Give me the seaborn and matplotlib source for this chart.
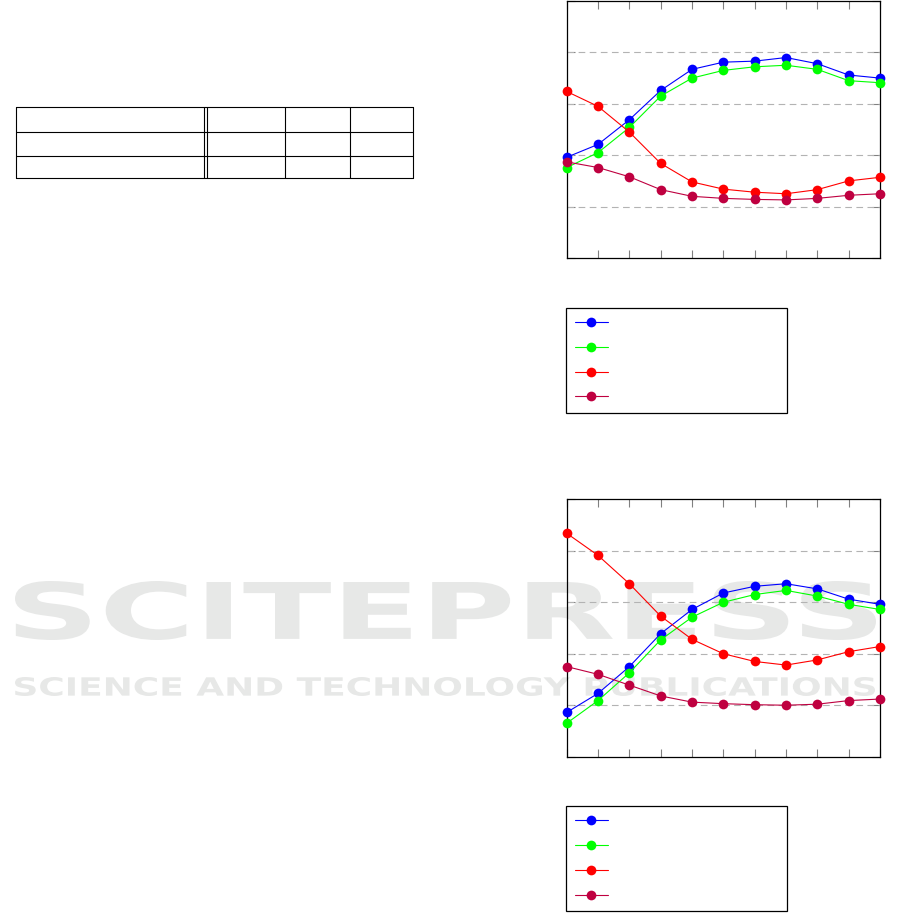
import numpy as np
import pandas as pd
import matplotlib
matplotlib.use("Agg")
import matplotlib.pyplot as plt
import seaborn as sns
from matplotlib.textpath import TextPath
from matplotlib.font_manager import FontProperties
from matplotlib.patches import PathPatch
from matplotlib.transforms import Affine2D
from matplotlib.lines import Line2D

# dados
x_pontos = list(range(11))
series = ["s1", "s2", "s3", "s4"]
cores = ["#0000ff", "#00ff00", "#ff0000", "#bf0040"]

sup_azul = [1.96, 2.21, 2.69, 3.26, 3.67, 3.81, 3.83, 3.90, 3.78, 3.56, 3.50]
sup_verde = [1.76, 2.05, 2.54, 3.15, 3.50, 3.65, 3.72, 3.75, 3.67, 3.45, 3.41]
sup_vermelho = [3.24, 2.95, 2.45, 1.84, 1.48, 1.34, 1.28, 1.25, 1.33, 1.50, 1.57]
sup_roxo = [1.87, 1.76, 1.58, 1.33, 1.20, 1.16, 1.14, 1.13, 1.16, 1.22, 1.25]

inf_azul = [0.86, 1.23, 1.75, 2.39, 2.86, 3.18, 3.31, 3.36, 3.26, 3.06, 2.96]
inf_verde = [0.65, 1.09, 1.63, 2.27, 2.71, 3.00, 3.15, 3.23, 3.12, 2.96, 2.86]
inf_vermelho = [4.34, 3.91, 3.36, 2.73, 2.28, 2.00, 1.85, 1.78, 1.88, 2.04, 2.14]
inf_roxo = [1.75, 1.60, 1.39, 1.18, 1.06, 1.03, 1.01, 1.00, 1.02, 1.09, 1.12]

W, H = 901, 913
fig = plt.figure(figsize=(W / 100, H / 100), dpi=100)
sns.set_style("white")

# marca d'agua
cinza = "#e7e8e7"
def marca(texto, x0, y0, x1, y1):
    tp = TextPath((0, 0), texto, size=100, prop=FontProperties(family="DejaVu Sans", weight="bold"))
    bb = tp.get_extents()
    t = Affine2D().translate(-bb.x0, -bb.y0).scale((x1 - x0) / bb.width, (y1 - y0) / bb.height)
    t = t.translate(x0, H - y1).scale(1 / W, 1 / H)
    p = PathPatch(t.transform_path(tp), facecolor=cinza, edgecolor="none",
                  transform=fig.transFigure, zorder=0)
    fig.add_artist(p)

marca("SCITEPRESS", 15, 581, 876, 640)
marca("SCIENCE AND TECHNOLOGY PUBLICATIONS", 15, 677, 875, 696)

# tabela vazia
lin_y = [107.3, 131.7, 155.7, 178.3]
col_x = [16.3, 203.7, 207.3, 285.3, 349.7, 413.3]
for y in lin_y:
    fig.add_artist(Line2D([col_x[0] / W, col_x[-1] / W], [1 - y / H, 1 - y / H],
                          color="black", lw=0.8, transform=fig.transFigure))
for x in col_x:
    fig.add_artist(Line2D([x / W, x / W], [1 - lin_y[0] / H, 1 - lin_y[-1] / H],
                          color="black", lw=0.8, transform=fig.transFigure))

def painel(rect, valores, leg_rect):
    ax = fig.add_axes(rect)
    ax.set_facecolor("none")
    for nome, vals, cor in zip(series, valores, cores):
        sns.lineplot(x=x_pontos, y=vals, ax=ax, color=cor, marker="o", markersize=7,
                     markeredgewidth=0, linewidth=0.8, label=" ", clip_on=False, zorder=3)
    ax.set_xlim(0, 10)
    ax.set_ylim(0, 5)
    ax.set_xticks(x_pontos)
    ax.set_yticks([0, 1, 2, 3, 4, 5])
    ax.set_xticklabels([])
    ax.set_yticklabels([])
    ax.set_xlabel("")
    ax.set_ylabel("")
    for y in [1, 2, 3, 4]:
        ax.axhline(y, color="#b3b3b3", lw=0.8, ls=(0, (6, 4)), zorder=1)
    ax.tick_params(direction="in", length=6, width=0.8, color="#808080",
                   top=True, right=True, bottom=True, left=True)
    for s in ax.spines.values():
        s.set_color("black")
        s.set_linewidth(0.9)
    handles, labels = ax.get_legend_handles_labels()
    ax.get_legend().remove()
    leg = fig.legend(handles, labels, loc="upper left", bbox_to_anchor=leg_rect, mode="expand",
                     fontsize=10, handlelength=2.4, handleheight=1.0, labelspacing=0.78,
                     borderpad=0.6, borderaxespad=0, fancybox=False, framealpha=1,
                     edgecolor="black", handletextpad=0.5)
    leg.get_frame().set_linewidth(0.9)
    return ax

painel([566.7 / W, 1 - 258 / H, 313.3 / W, 257 / H],
       [sup_azul, sup_verde, sup_vermelho, sup_roxo],
       (566.3 / W, 1 - 308 / H, 221 / W, 0))
painel([566.7 / W, 1 - 756.7 / H, 313.3 / W, 257.4 / H],
       [inf_azul, inf_verde, inf_vermelho, inf_roxo],
       (566.3 / W, 1 - 806.3 / H, 221 / W, 0))

plt.savefig("out.png", dpi=100)
